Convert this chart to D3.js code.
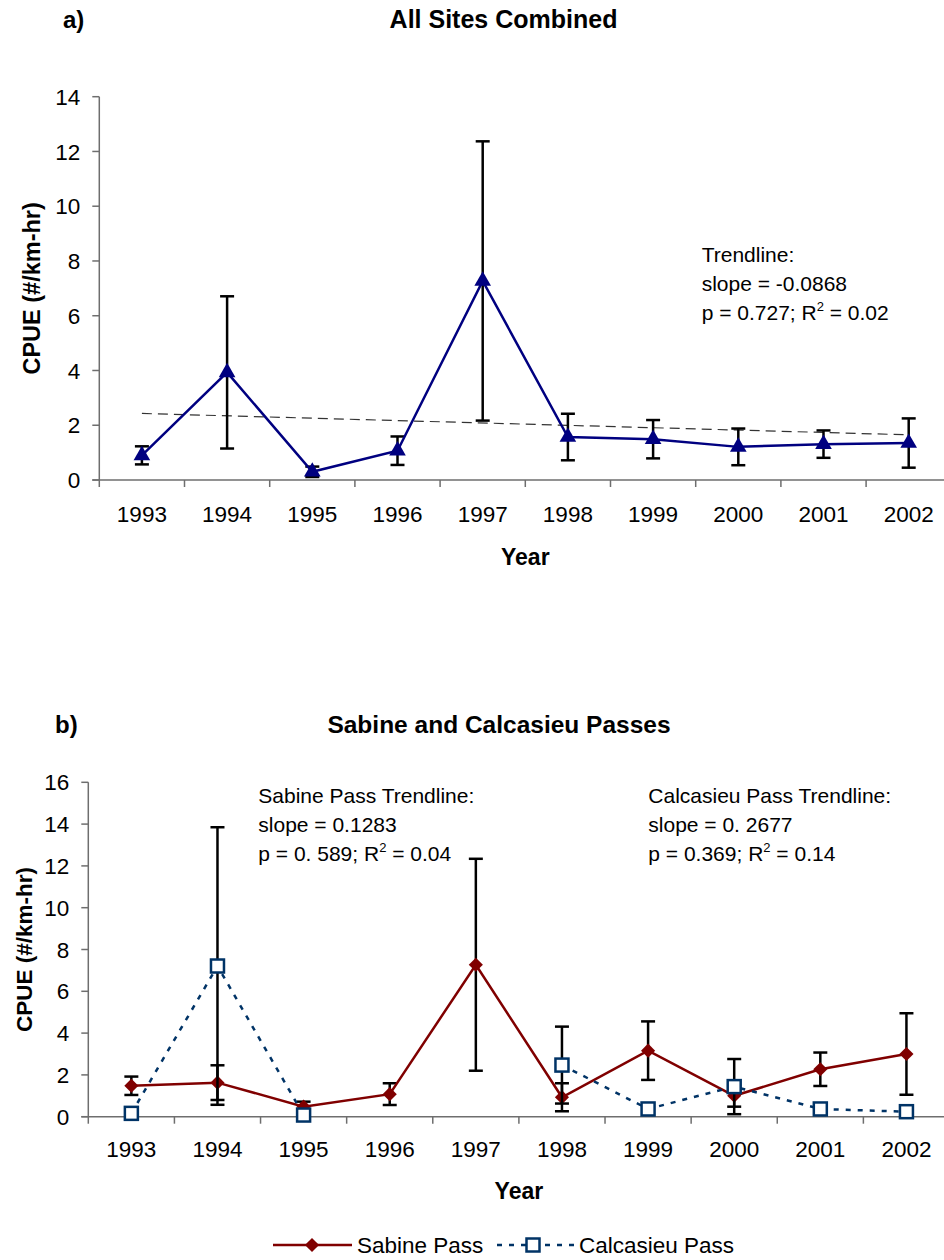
<!DOCTYPE html>
<html>
<head>
<meta charset="utf-8">
<script src="https://cdn.jsdelivr.net/npm/d3@7"></script>
<style>
  html, body { margin: 0; padding: 0; background: #fff; }
  svg { display: block; font-family: "Liberation Sans", Arial, sans-serif; }
</style>
</head>
<body>
<svg id="chart" width="944" height="1260"></svg>
<script>
// Survey years shared by both panels
const years = ["1993", "1994", "1995", "1996", "1997", "1998", "1999", "2000", "2001", "2002"];

// Panel a: all sites combined, mean CPUE and error
const allMean = [0.9, 3.93, 0.3, 1.07, 7.27, 1.57, 1.49, 1.21, 1.31, 1.35];
const allErr  = [0.33, 2.78, 0.19, 0.52, 5.1, 0.85, 0.7, 0.67, 0.5, 0.9];
const allSlope = -0.0868;

// Panel b: Sabine Pass and Calcasieu Pass (null = not sampled / no bar)
const sabineMean = [1.48, 1.63, 0.48, 1.08, 7.27, 0.93, 3.16, 1.0, 2.27, 3.0];
const sabineErr  = [0.44, 0.83, 0.24, 0.52, 5.07, 0.67, 1.4, 0.52, 0.8, 1.95];
const calcMean   = [0.16, 7.21, 0.08, null, null, 2.47, 0.37, 1.44, 0.37, 0.24];
const calcErr    = [null, 6.64, null, null, null, 1.84, null, 1.32, null, null];

// Tick values
const ticksA = [0, 2, 4, 6, 8, 10, 12, 14];
const ticksB = [0, 2, 4, 6, 8, 10, 12, 14, 16];

const svg = d3.select("#chart");
const AXIS = "#6e6e6e";

function drawFrame(g, x, y, ticks, opt) {
  const [x0, x1] = x.range();
  const y0 = y.range()[0];
  // y axis line and ticks
  g.append("line").attr("x1", x0).attr("x2", x0).attr("y1", y0).attr("y2", y(ticks[ticks.length - 1]))
    .attr("stroke", AXIS).attr("stroke-width", 1.5);
  ticks.forEach(t => {
    g.append("line").attr("x1", x0 - 7).attr("x2", x0).attr("y1", y(t)).attr("y2", y(t))
      .attr("stroke", AXIS).attr("stroke-width", 1.5);
    g.append("text").attr("x", x0 - 19).attr("y", y(t)).attr("dy", "0.36em")
      .attr("text-anchor", "end").attr("font-size", 22.5).text(t);
  });
  // x axis line, boundary ticks, category labels
  g.append("line").attr("x1", x0 - 7).attr("x2", x1).attr("y1", y0).attr("y2", y0)
    .attr("stroke", AXIS).attr("stroke-width", 1.5);
  years.forEach(yr => {
    const xb = x(yr);
    g.append("line").attr("x1", xb).attr("x2", xb).attr("y1", y0).attr("y2", y0 + 7)
      .attr("stroke", AXIS).attr("stroke-width", 1.5);
    g.append("text").attr("x", xb + x.bandwidth() / 2).attr("y", opt.labelY)
      .attr("text-anchor", "middle").attr("font-size", 22.5).text(yr);
  });
  g.append("line").attr("x1", x1).attr("x2", x1).attr("y1", y0).attr("y2", y0 + 7)
    .attr("stroke", AXIS).attr("stroke-width", 1.5);

  // axis titles
  g.append("text").attr("x", (x0 + x1) / 2).attr("y", opt.yearY)
    .attr("text-anchor", "middle").attr("font-weight", "bold").attr("font-size", 23).text("Year");
  const yc = (y0 + y(ticks[ticks.length - 1])) / 2;
  g.append("text").attr("transform", `translate(${opt.yTitleX},${yc}) rotate(-90)`)
    .attr("text-anchor", "middle").attr("font-weight", "bold").attr("font-size", opt.yTitleSize)
    .text("CPUE (#/km-hr)");
}

function drawErrors(g, x, y, means, errs, color) {
  const cx = d => x(d) + x.bandwidth() / 2;
  years.forEach((yr, i) => {
    if (means[i] == null || errs[i] == null) return;
    const top = y(means[i] + errs[i]);
    const bot = y(Math.max(0, means[i] - errs[i]));
    const c = cx(yr);
    g.append("line").attr("x1", c).attr("x2", c).attr("y1", top).attr("y2", bot)
      .attr("stroke", color).attr("stroke-width", 2.5);
    [top, bot].forEach(v => g.append("line").attr("x1", c - 7).attr("x2", c + 7).attr("y1", v).attr("y2", v)
      .attr("stroke", color).attr("stroke-width", 2.5));
  });
}

function annot(g, x, y, lines) {
  const t = g.append("text").attr("font-size", 21);
  lines.forEach((ln, i) => {
    const line = t.append("tspan").attr("x", x).attr("y", y + i * 29);
    if (Array.isArray(ln)) {
      // [before, superscript, after]
      line.text(ln[0]);
      t.append("tspan").attr("dy", -9).attr("font-size", 13).text(ln[1]);
      t.append("tspan").attr("dy", 9).text(ln[2]);
    } else {
      line.text(ln);
    }
  });
}

// ---------------- Panel a ----------------
{
  const g = svg.append("g");
  const x = d3.scaleBand().domain(years).range([99.3, 951.3]);
  const y = d3.scaleLinear().domain([0, 14]).range([480, 96.7]);
  const cx = d => x(d) + x.bandwidth() / 2;

  g.append("text").attr("x", 63).attr("y", 28).attr("font-weight", "bold").attr("font-size", 24).text("a)");
  g.append("text").attr("x", 503.5).attr("y", 28).attr("text-anchor", "middle")
    .attr("font-weight", "bold").attr("font-size", 25).text("All Sites Combined");

  drawFrame(g, x, y, ticksA, { labelY: 522, yearY: 565, yTitleX: 40, yTitleSize: 23.5 });

  // linear trend through the mean with the fitted slope
  const meanX = (years.length - 1) / 2;
  const meanY = d3.mean(allMean);
  const trend = i => meanY + allSlope * (i - meanX);
  g.append("line")
    .attr("x1", cx(years[0])).attr("y1", y(trend(0)))
    .attr("x2", cx(years[years.length - 1])).attr("y2", y(trend(years.length - 1)))
    .attr("stroke", "#333").attr("stroke-width", 1.2).attr("stroke-dasharray", "10,6");

  drawErrors(g, x, y, allMean, allErr, "#000");

  g.append("path").datum(allMean)
    .attr("d", d3.line().x((d, i) => cx(years[i])).y(d => y(d)))
    .attr("fill", "none").attr("stroke", "#000080").attr("stroke-width", 2.5);

  g.selectAll(".tri").data(allMean).join("path")
    .attr("transform", (d, i) => `translate(${cx(years[i])},${y(d)})`)
    .attr("d", d3.symbol(d3.symbolTriangle, 120))
    .attr("fill", "#000080");

  annot(g, 701.7, 261.7, ["Trendline:", "slope = -0.0868", ["p = 0.727; R", "2", " = 0.02"]]);
}

// ---------------- Panel b ----------------
{
  const g = svg.append("g");
  const x = d3.scaleBand().domain(years).range([88.3, 949.5]);
  const y = d3.scaleLinear().domain([0, 16]).range([1116.7, 782.3]);
  const cx = d => x(d) + x.bandwidth() / 2;

  g.append("text").attr("x", 55).attr("y", 733).attr("font-weight", "bold").attr("font-size", 24).text("b)");
  g.append("text").attr("x", 499).attr("y", 733).attr("text-anchor", "middle")
    .attr("font-weight", "bold").attr("font-size", 24.5).text("Sabine and Calcasieu Passes");

  drawFrame(g, x, y, ticksB, { labelY: 1156.7, yearY: 1198.5, yTitleX: 32, yTitleSize: 22.5 });

  // Sabine Pass
  drawErrors(g, x, y, sabineMean, sabineErr, "#000");
  g.append("path").datum(sabineMean)
    .attr("d", d3.line().x((d, i) => cx(years[i])).y(d => y(d)))
    .attr("fill", "none").attr("stroke", "#800000").attr("stroke-width", 2.5);
  g.selectAll(".dia").data(sabineMean).join("path")
    .attr("transform", (d, i) => `translate(${cx(years[i])},${y(d)}) rotate(45)`)
    .attr("d", d3.symbol(d3.symbolSquare, 100))
    .attr("fill", "#800000");

  // Calcasieu Pass
  drawErrors(g, x, y, calcMean, calcErr, "#000");
  g.append("path").datum(calcMean)
    .attr("d", d3.line().defined(d => d != null).x((d, i) => cx(years[i])).y(d => y(d)))
    .attr("fill", "none").attr("stroke", "#003366").attr("stroke-width", 2.5)
    .attr("stroke-dasharray", "5,7");
  const calcPts = calcMean.map((v, i) => ({ v, yr: years[i] })).filter(d => d.v != null);
  g.selectAll(".sq").data(calcPts).join("rect")
    .attr("x", d => cx(d.yr) - 6.5).attr("y", d => y(d.v) - 6.5)
    .attr("width", 13).attr("height", 13)
    .attr("fill", "#fff").attr("stroke", "#003366").attr("stroke-width", 2.5);

  annot(g, 258.3, 802.7, ["Sabine Pass Trendline:", "slope = 0.1283", ["p = 0. 589; R", "2", " = 0.04"]]);
  annot(g, 648.3, 802.7, ["Calcasieu Pass Trendline:", "slope = 0. 2677", ["p = 0.369; R", "2", " = 0.14"]]);

  // legend
  const lg = svg.append("g");
  const ly = 1245;
  lg.append("line").attr("x1", 273).attr("x2", 352).attr("y1", ly).attr("y2", ly)
    .attr("stroke", "#800000").attr("stroke-width", 2.5);
  lg.append("path").attr("transform", `translate(312,${ly}) rotate(45)`)
    .attr("d", d3.symbol(d3.symbolSquare, 100)).attr("fill", "#800000");
  lg.append("text").attr("x", 357).attr("y", 1253).attr("font-size", 22.5).text("Sabine Pass");
  lg.append("line").attr("x1", 497).attr("x2", 575).attr("y1", ly).attr("y2", ly)
    .attr("stroke", "#003366").attr("stroke-width", 2.5).attr("stroke-dasharray", "5,7");
  lg.append("rect").attr("x", 533 - 6.5).attr("y", ly - 6.5).attr("width", 13).attr("height", 13)
    .attr("fill", "#fff").attr("stroke", "#003366").attr("stroke-width", 2.5);
  lg.append("text").attr("x", 579).attr("y", 1253).attr("font-size", 22.5).text("Calcasieu Pass");
}
</script>
</body>
</html>
